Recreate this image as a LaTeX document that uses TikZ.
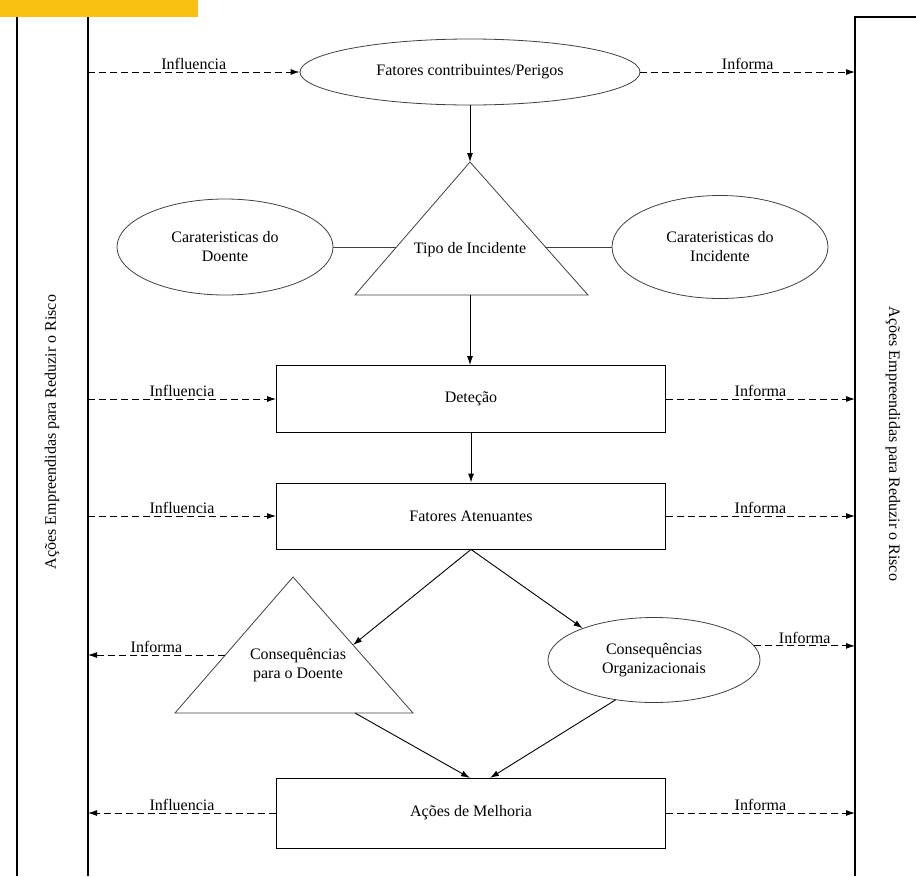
\documentclass[tikz,border=0pt]{standalone}
\usepackage{fontspec}
\setmainfont{Liberation Serif}
\usetikzlibrary{shapes.geometric,arrows.meta}
\definecolor{barYellow}{RGB}{250,193,18}
\begin{document}
\begin{tikzpicture}[x=1pt, y=-1pt, >={Latex[length=9pt,width=6pt]},
        every node/.style={font=\fontsize{16}{19}\selectfont, inner sep=2pt},
        oval/.style={draw=black!75, ellipse, align=center, line width=0.8pt},
        box/.style={draw, rectangle, minimum width=389pt, line width=0.9pt},
        flow/.style={->, line width=0.9pt},
        infoarrow/.style={->, line width=0.9pt, dash pattern=on 7pt off 4pt},
        edge/.style={line width=0.8pt, draw=black!75}]
        \useasboundingbox (0,0) rectangle (916,876);

        % Frame
        \fill[barYellow] (0,0) rectangle (198,17);
        \draw[line width=1.2pt] (17,17) -- (17,876);
        \draw[line width=1.2pt] (88,17) -- (88,876);
        \draw[line width=2pt] (916,17) -- (855,17) -- (855,876);
        \coordinate (lw) at (88,0);
        \coordinate (rw) at (855,0);
        \node[rotate=90] (acoesL) at (52,432) {Ações Empreendidas para Reduzir o Risco};
        \node[rotate=-90] (acoesR) at (893,444) {Ações Empreendidas para Reduzir o Risco};

        % Nodes
        \node[oval, minimum width=340pt, minimum height=66pt] (fat) at (470,72) {Fatores contribuintes/Perigos};

        \coordinate (tipoTop) at (470,162);
        \coordinate (tipoBL) at (355,295);
        \coordinate (tipoBR) at (588,295);
        \coordinate (tipoB) at (470,295);
        \coordinate (tipoL) at (396,247);
        \coordinate (tipoR) at (545,247);
        \draw[edge] (tipoTop) -- (tipoBR) -- (tipoBL) -- cycle;
        \node (tipo) at (470,250) {Tipo de Incidente};

        \node[oval, minimum width=216pt, minimum height=96pt] (carD) at (225,247) {Carateristicas do\\Doente};
        \node[oval, minimum width=216pt, minimum height=103pt] (carI) at (720,247) {Carateristicas do\\Incidente};

        \node[box, minimum height=67pt] (det) at (471,399) {Deteção};
        \node[box, minimum height=66pt] (atn) at (471,516) {Fatores Atenuantes};

        \coordinate (consTop) at (293,577);
        \coordinate (consBL) at (175,713);
        \coordinate (consBR) at (413,713);
        \coordinate (consR) at (353,645);
        \coordinate (consL) at (225,655);
        \coordinate (consB) at (355,713);
        \draw[edge] (consTop) -- (consBR) -- (consBL) -- cycle;
        \node[align=center] (cons) at (298,665) {Consequências\\para o Doente};

        \node[oval, minimum width=212pt, minimum height=85pt] (org) at (654,660) {Consequências\\Organizacionais};

        \node[box, minimum height=70pt] (mel) at (471,813) {Ações de Melhoria};
        \coordinate (melA) at (470,778);
        \coordinate (melB) at (490,778);

        % Arrows
        \draw[flow] (fat) -- (tipoTop);
        \draw[edge] (carD) -- (tipoL);
        \draw[edge] (tipoR) -- (carI);
        \draw[flow] (tipoB) -- (tipoB |- det.north);
        \draw[flow] (det) -- (atn);
        \draw[flow] (atn.south) -- (consR);
        \draw[flow] (atn.south) -- (org.156);
        \draw[flow] (consB) -- (melA);
        \draw[flow] (org.226) -- (melB);

        % Influencia / Informa
        \draw[infoarrow] (lw |- fat) -- (fat) node[midway, above] {Influencia};
        \draw[infoarrow] (fat) -- (fat -| rw) node[midway, above] {Informa};
        \draw[infoarrow] (lw |- det) -- (det) node[midway, above] {Influencia};
        \draw[infoarrow] (det) -- (det -| rw) node[midway, above] {Informa};
        \draw[infoarrow] (lw |- atn) -- (atn) node[midway, above] {Influencia};
        \draw[infoarrow] (atn) -- (atn -| rw) node[midway, above] {Informa};
        \draw[infoarrow] (consL) -- (consL -| lw) node[midway, above] {Informa};
        \draw[infoarrow] (org.8) -- (org.8 -| rw) node[midway, above] {Informa};
        \draw[infoarrow] (mel) -- (mel -| lw) node[midway, above] {Influencia};
        \draw[infoarrow] (mel) -- (mel -| rw) node[midway, above] {Informa};
    \end{tikzpicture}
\end{document}
